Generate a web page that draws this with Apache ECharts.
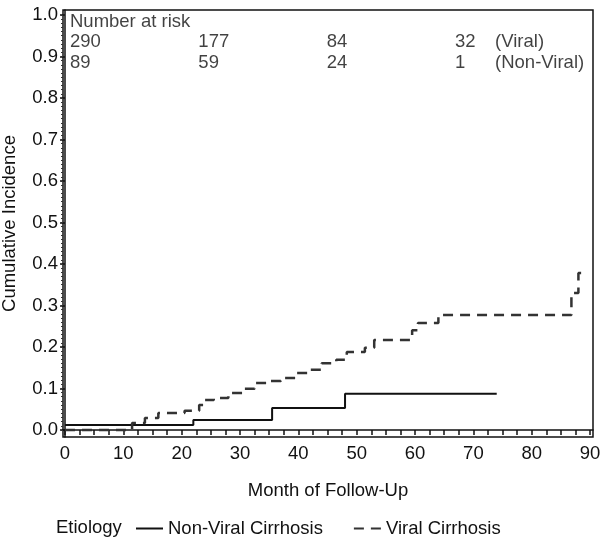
<!DOCTYPE html>
<html>
<head>
<meta charset="utf-8">
<script src="https://cdn.jsdelivr.net/npm/echarts@6/dist/echarts.min.js"></script>
<style>
html,body{margin:0;padding:0;background:#fff;}
#main{width:600px;height:542px;}
</style>
</head>
<body>
<div id="main"></div>
<script>
// ---- data ----
const nonViralMonths = [0, 22, 35.5, 48, 74];
const nonViralValues = [0.012, 0.024, 0.053, 0.087, 0.087];

const viralMonths = [0, 11.5, 13.7, 16, 20.5, 23, 24, 25.5, 28, 30.5, 32.5, 35, 37, 39.5, 41.7, 44, 46.5, 48.3, 51.4, 53, 59.5, 60.5, 64, 86.8, 88, 89.5];
const viralValues = [0, 0.017, 0.029, 0.041, 0.046, 0.06, 0.072, 0.077, 0.089, 0.099, 0.113, 0.118, 0.125, 0.137, 0.145, 0.161, 0.169, 0.188, 0.198, 0.217, 0.24, 0.258, 0.277, 0.33, 0.378, 0.378];

const riskMonths = [0, 22, 44, 66];
const riskViral = [290, 177, 84, 32];
const riskNonViral = [89, 59, 24, 1];
const riskTitle = 'Number at risk';
const groupLabels = ['(Viral)', '(Non-Viral)'];

const xTickLabels = [0, 10, 20, 30, 40, 50, 60, 70, 80, 90];
const xTickMarks = [];
for (let v = 0; v <= 90; v += 2.5) xTickMarks.push(v);
const yTickLabels = [0, 0.1, 0.2, 0.3, 0.4, 0.5, 0.6, 0.7, 0.8, 0.9, 1.0];
const yMinorTicks = [];
for (let i = 0; i <= 100; i++) yMinorTicks.push(+(i / 100).toFixed(2));

const seriesNames = ['Non-Viral Cirrhosis', 'Viral Cirrhosis'];
const legendTitle = 'Etiology';
const xName = 'Month of Follow-Up';
const yName = 'Cumulative Incidence';

// ---- layout constants (not data) ----
const rowTitleY = 0.983, rowViralY = 0.935, rowNonViralY = 0.884;
const FONT = "'Liberation Sans', Arial, sans-serif";
const FS = 18.5;

const chart = echarts.init(document.getElementById('main'), null, {renderer: 'canvas'});

const textLabel = {
  show: true, position: 'right', distance: 5,
  color: '#111', fontFamily: FONT, fontSize: FS,
  formatter: p => p.data[2]
};

const option = {
  backgroundColor: '#fff',
  animation: false,
  textStyle: {fontFamily: FONT},
  grid: {
    left: 63, right: 7, top: 10, bottom: 105,
    outerBoundsMode: 'none', containLabel: false,
    show: true, borderColor: '#111', borderWidth: 1.5, backgroundColor: 'transparent'
  },
  xAxis: [{
    type: 'value', min: -0.34, max: 90.5,
    name: xName, nameLocation: 'middle', nameGap: 44,
    nameTextStyle: {color: '#111', fontSize: FS, fontFamily: FONT},
    axisLine: {show: true, lineStyle: {color: '#111', width: 1.5}},
    axisTick: {show: true, inside: false, length: 5, lineStyle: {color: '#111', width: 1.5}, customValues: xTickMarks},
    axisLabel: {color: '#111', fontSize: FS, fontFamily: FONT, margin: 7, customValues: xTickLabels, formatter: v => String(v)},
    splitLine: {show: false}
  }],
  yAxis: [{
    type: 'value', min: -0.017, max: 1.012,
    name: yName, nameLocation: 'middle', nameGap: 44, nameRotate: 90,
    nameTextStyle: {color: '#111', fontSize: FS, fontFamily: FONT},
    axisLine: {show: true, lineStyle: {color: '#111', width: 1.5}},
    axisTick: {show: true, inside: false, length: 5, lineStyle: {color: '#111', width: 1.5}, customValues: yTickLabels},
    axisLabel: {color: '#111', fontSize: FS, fontFamily: FONT, margin: 5, customValues: yTickLabels, formatter: v => v.toFixed(1)},
    splitLine: {show: false}
  }, {
    type: 'value', min: -0.017, max: 1.012, position: 'left',
    axisLine: {show: false},
    axisTick: {show: true, inside: false, length: 2, lineStyle: {color: '#333', width: 1}, customValues: yMinorTicks},
    axisLabel: {show: false},
    splitLine: {show: false}
  }],
  legend: {
    data: seriesNames,
    left: 130, top: 514,
    itemWidth: 27, itemHeight: 14, itemGap: 30,
    itemStyle: {opacity: 0},
    textStyle: {color: '#111', fontSize: FS, fontFamily: FONT}
  },
  graphic: [{
    type: 'text', left: 56, top: 518,
    style: {text: legendTitle, fill: '#111', font: FS + 'px ' + FONT}
  }],
  series: [{
    name: seriesNames[0], type: 'line', step: 'end', showSymbol: false, symbol: 'none',
    lineStyle: {color: '#111', width: 2, type: 'solid'},
    itemStyle: {color: '#111'},
    data: nonViralMonths.map((m, i) => [m, nonViralValues[i]])
  }, {
    name: seriesNames[1], type: 'line', step: 'end', showSymbol: false, symbol: 'none',
    lineStyle: {color: '#333', width: 2.5, type: [10, 7]},
    itemStyle: {color: '#333'},
    data: viralMonths.map((m, i) => [m, viralValues[i]])
  }, {
    name: 'risk', type: 'scatter', symbolSize: 0, silent: true,
    label: textLabel,
    data: [[riskMonths[0], rowTitleY, riskTitle]]
      .concat(riskMonths.map((m, i) => [m, rowViralY, String(riskViral[i])]))
      .concat(riskMonths.map((m, i) => [m, rowNonViralY, String(riskNonViral[i])]))
  }, {
    name: 'groups', type: 'scatter', symbolSize: 0, silent: true,
    label: Object.assign({}, textLabel, {offset: [40, 0]}),
    data: [[riskMonths[3], rowViralY, groupLabels[0]], [riskMonths[3], rowNonViralY, groupLabels[1]]]
  }]
};
chart.setOption(option);
</script>
</body>
</html>
